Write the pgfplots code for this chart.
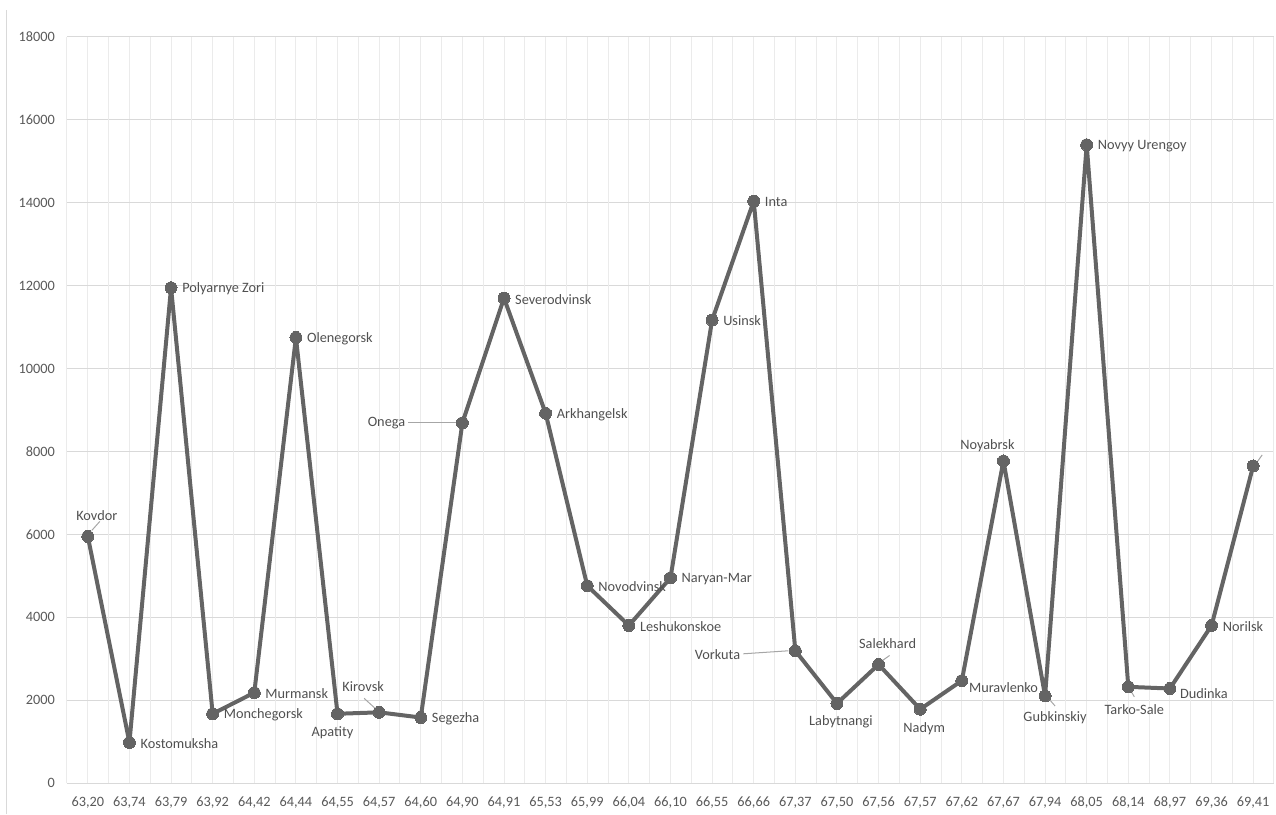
\documentclass[border=0pt]{standalone}
\usepackage{pgfplots}
\pgfplotsset{compat=1.18}
\usepackage{fontspec}
\setmainfont{Carlito}

\definecolor{lineGrey}{HTML}{646464}
\definecolor{labelGrey}{HTML}{505050}
\definecolor{tickGrey}{HTML}{595959}
\definecolor{hGrid}{HTML}{D9D9D9}
\definecolor{vGrid}{HTML}{EBEBEB}
\definecolor{leaderGrey}{HTML}{A6A6A6}

% town-name labels: anchor, x offset, y offset
\pgfplotsset{
  lbl/.style n args={3}{
    draw=none, mark=none, forget plot,
    point meta=explicit symbolic,
    nodes near coords,
    nodes near coords align={anchor=#1},
    every node near coord/.style={
      font=\fontsize{14.3}{16}\selectfont, text=labelGrey, inner sep=0pt,
      anchor=#1, xshift=#2, yshift=#3},
  },
}

\begin{document}
\begin{tikzpicture}
\path[use as bounding box] (-67pt,-31pt) rectangle (1209pt,783pt);
\draw[hGrid, line width=1pt] (-60pt,-31pt) -- (-60pt,773pt);
\begin{axis}[
  at={(0,0)}, anchor=south west,
  scale only axis,
  width=1207pt, height=746pt,
  xmin=-0.5, xmax=28.5,
  ymin=0, ymax=18000,
  axis lines*=left,
  axis line style={-},
  y axis line style={draw=none},
  x axis line style={draw=hGrid, line width=1pt},
  major tick length=0pt,
  xtick={0,...,28},
  xticklabels={{63,20},{63,74},{63,79},{63,92},{64,42},{64,44},{64,55},{64,57},{64,60},{64,90},{64,91},{65,53},{65,99},{66,04},{66,10},{66,55},{66,66},{67,37},{67,50},{67,56},{67,57},{67,62},{67,67},{67,94},{68,05},{68,14},{68,97},{69,36},{69,41}},
  extra x ticks={-0.5,0.5,...,28.5},
  extra x tick labels={},
  extra x tick style={grid=major},
  ytick={0,2000,...,18000},
  scaled y ticks=false,
  xmajorgrids, ymajorgrids,
  x grid style={draw=vGrid, line width=1pt},
  y grid style={draw=hGrid, line width=1pt},
  /pgf/number format/1000 sep={},
  /pgf/number format/assume math mode=true,
  tick label style={font=\fontsize{14.3}{16}\selectfont, text=tickGrey},
  yticklabel style={anchor=east, inner sep=0pt, xshift=-12pt},
  xticklabel style={anchor=north, inner sep=0pt, yshift=-14pt},
  clip=false,
]
% population by latitude
\addplot[
  color=lineGrey, line width=4pt, line join=round,
  mark=*, mark size=6pt,
  mark options={fill=lineGrey, draw=lineGrey, line width=0pt},
] coordinates {
  (0,5950) (1,980) (2,11950) (3,1670) (4,2180) (5,10750) (6,1670)
  (7,1705) (8,1580) (9,8690) (10,11700) (11,8920) (12,4760) (13,3800)
  (14,4950) (15,11170) (16,14040) (17,3190) (18,1920) (19,2860)
  (20,1780) (21,2470) (22,7770) (23,2100) (24,15400) (25,2320)
  (26,2280) (27,3800) (28,7650)
};

% names to the right of their points
\addplot[lbl={west}{11pt}{-1pt}] coordinates {
  (1,980) [Kostomuksha] (2,11950) [Polyarnye Zori] (3,1670) [Monchegorsk]
  (4,2180) [Murmansk] (5,10750) [Olenegorsk] (8,1580) [Segezha]
  (10,11700) [Severodvinsk] (11,8920) [Arkhangelsk] (12,4760) [Novodvinsk]
  (13,3800) [Leshukonskoe] (14,4950) [Naryan-Mar] (15,11170) [Usinsk]
  (16,14040) [Inta] (24,15400) [Novyy Urengoy] (27,3800) [Norilsk]
};
% names placed individually
\addplot[lbl={center}{9pt}{21pt}]   coordinates {(0,5950) [Kovdor]};
\addplot[lbl={center}{-5pt}{-19pt}] coordinates {(6,1670) [Apatity]};
\addplot[lbl={center}{-16pt}{26pt}] coordinates {(7,1705) [Kirovsk]};
\addplot[lbl={east}{-57pt}{0pt}]    coordinates {(9,8690) [Onega]};
\addplot[lbl={east}{-55pt}{-4pt}]   coordinates {(17,3190) [Vorkuta]};
\addplot[lbl={center}{4pt}{-18pt}]  coordinates {(18,1920) [Labytnangi]};
\addplot[lbl={center}{9pt}{21pt}]   coordinates {(19,2860) [Salekhard]};
\addplot[lbl={center}{4pt}{-19pt}]  coordinates {(20,1780) [Nadym]};
\addplot[lbl={west}{7pt}{-7pt}]     coordinates {(21,2470) [Muravlenko]};
\addplot[lbl={center}{-16pt}{15pt}] coordinates {(22,7770) [Noyabrsk]};
\addplot[lbl={center}{10pt}{-22pt}] coordinates {(23,2100) [Gubkinskiy]};
\addplot[lbl={center}{6pt}{-23pt}]  coordinates {(25,2320) [Tarko-Sale]};
\addplot[lbl={west}{10pt}{-5pt}]    coordinates {(26,2280) [Dudinka]};

% leader lines for labels placed away from their points
\begin{scope}[leaderGrey, line width=1pt]
\draw ([shift={(4pt,6pt)}]axis cs:0,5950) -- ([shift={(12pt,15pt)}]axis cs:0,5950);
\draw ([shift={(-15pt,14pt)}]axis cs:7,1705) -- ([shift={(-4pt,4pt)}]axis cs:7,1705);
\draw ([shift={(-6pt,0pt)}]axis cs:9,8690) -- ([shift={(-54pt,0pt)}]axis cs:9,8690);
\draw ([shift={(-7pt,0pt)}]axis cs:17,3190) -- ([shift={(-52pt,-3pt)}]axis cs:17,3190);
\draw ([shift={(4pt,4pt)}]axis cs:19,2860) -- ([shift={(11pt,9pt)}]axis cs:19,2860);
\draw ([shift={(3pt,-2pt)}]axis cs:23,2100) -- ([shift={(10pt,-10pt)}]axis cs:23,2100);
\draw ([shift={(2pt,-3pt)}]axis cs:25,2320) -- ([shift={(6pt,-10pt)}]axis cs:25,2320);
\draw ([shift={(4pt,4pt)}]axis cs:28,7650) -- ([shift={(9pt,11pt)}]axis cs:28,7650);
\end{scope}
\end{axis}
\end{tikzpicture}
\end{document}
